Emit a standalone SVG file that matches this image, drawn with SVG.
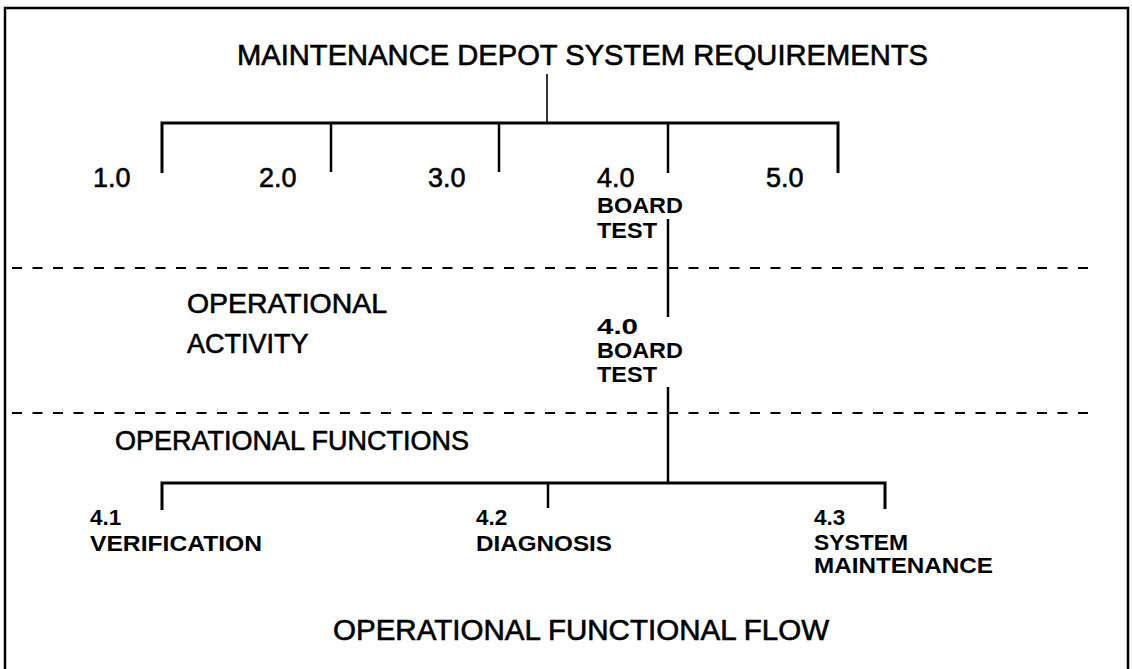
<svg xmlns="http://www.w3.org/2000/svg" width="1132" height="669" viewBox="0 0 1132 669">
<style>
text{font-family:"Liberation Sans",Arial,sans-serif;fill:#000}
.t{font-size:29px;stroke:#000;stroke-width:0.6}
.m{font-size:27px;stroke:#000;stroke-width:0.6}
.s{font-size:22.5px;font-weight:bold}
.ln{stroke:#000;fill:none;stroke-linecap:butt}
.bar{stroke-width:3}
.v{stroke-width:2.5}
.d{stroke:#000;stroke-width:2;stroke-dasharray:10 10.5;fill:none}
</style>
<rect x="5" y="8" width="1123" height="672" fill="#fff" stroke="#000" stroke-width="2.5"/>
<g id="connectors">
<line class="ln" stroke-width="1.6" x1="547" y1="74" x2="547" y2="123"/>
<polyline class="ln bar" points="162,173 162,123 838,123 838,173"/>
<line class="ln v" x1="331" y1="123" x2="331" y2="172"/>
<line class="ln v" x1="499" y1="123" x2="499" y2="172"/>
<line class="ln v" x1="668" y1="123" x2="668" y2="173"/>
<line class="ln v" x1="668" y1="219" x2="668" y2="317"/>
<line class="ln v" x1="668" y1="387" x2="668" y2="483"/>
<polyline class="ln bar" points="162,510 162,483 885,483 885,509"/>
<line class="ln v" x1="548" y1="483" x2="548" y2="508"/>
</g>
<g id="separators">
<line class="d" x1="12" y1="268" x2="1095" y2="268"/>
<line class="d" x1="12" y1="413" x2="1095" y2="413"/>
</g>
<g id="title"><text class="t" x="237" y="65" textLength="691" lengthAdjust="spacingAndGlyphs">MAINTENANCE DEPOT SYSTEM REQUIREMENTS</text></g>
<g id="n1"><text class="m" x="93" y="187">1.0</text></g>
<g id="n2"><text class="m" x="259" y="187">2.0</text></g>
<g id="n3"><text class="m" x="428" y="187">3.0</text></g>
<g id="n4"><text class="m" x="597" y="187">4.0</text>
<text class="s" x="597" y="213" textLength="86" lengthAdjust="spacingAndGlyphs">BOARD</text>
<text class="s" x="597" y="238" textLength="60" lengthAdjust="spacingAndGlyphs">TEST</text></g>
<g id="n5"><text class="m" x="766" y="187">5.0</text></g>
<g id="activity-label"><text class="m" x="187" y="313" textLength="200" lengthAdjust="spacingAndGlyphs">OPERATIONAL</text>
<text class="m" x="187" y="353">ACTIVITY</text></g>
<g id="activity"><text class="s" x="597" y="334" textLength="41" lengthAdjust="spacingAndGlyphs">4.0</text>
<text class="s" x="597" y="358" textLength="86" lengthAdjust="spacingAndGlyphs">BOARD</text>
<text class="s" x="597" y="382" textLength="60" lengthAdjust="spacingAndGlyphs">TEST</text></g>
<g id="functions-label"><text class="m" x="115" y="450">OPERATIONAL FUNCTIONS</text></g>
<g id="f41"><text class="s" x="90" y="525">4.1</text>
<text class="s" x="90" y="551" textLength="172" lengthAdjust="spacingAndGlyphs">VERIFICATION</text></g>
<g id="f42"><text class="s" x="476" y="525">4.2</text>
<text class="s" x="476" y="551" textLength="136" lengthAdjust="spacingAndGlyphs">DIAGNOSIS</text></g>
<g id="f43"><text class="s" x="814" y="525">4.3</text>
<text class="s" x="814" y="550" textLength="94" lengthAdjust="spacingAndGlyphs">SYSTEM</text>
<text class="s" x="814" y="573" textLength="179" lengthAdjust="spacingAndGlyphs">MAINTENANCE</text></g>
<g id="caption"><text class="t" x="333" y="640" textLength="496" lengthAdjust="spacingAndGlyphs">OPERATIONAL FUNCTIONAL FLOW</text></g>
</svg>
